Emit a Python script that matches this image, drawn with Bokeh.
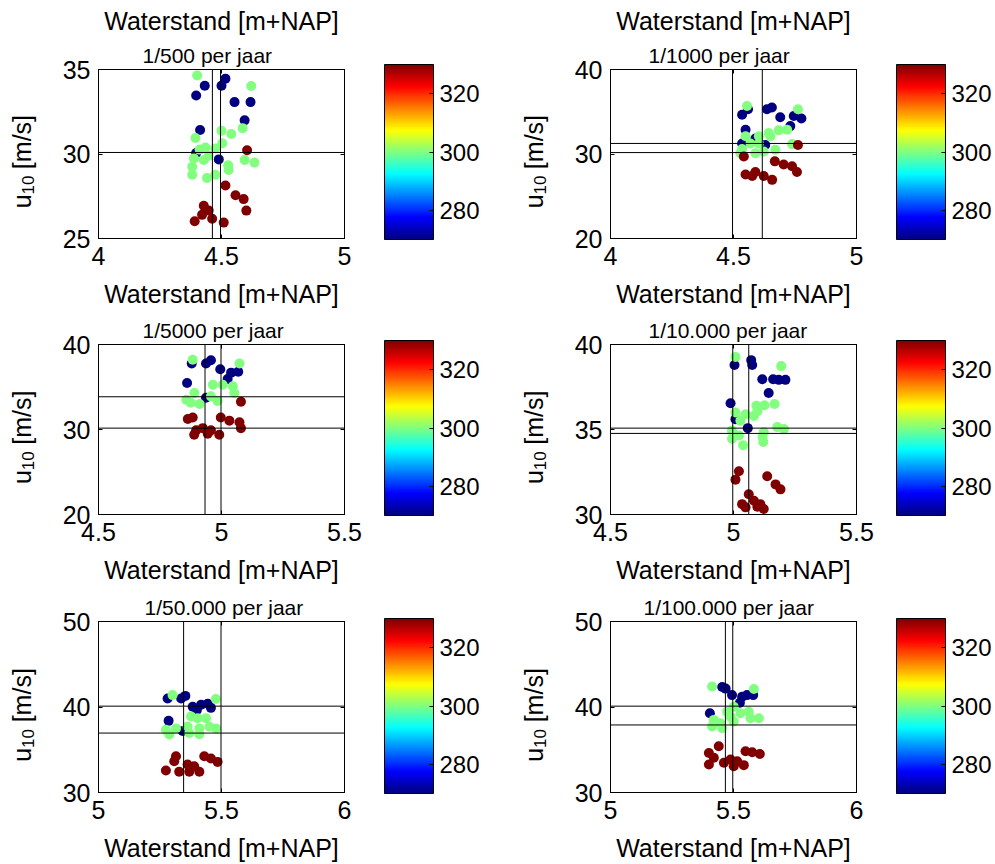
import numpy as np
from bokeh.plotting import figure
from bokeh.models import (ColumnDataSource, LinearColorMapper, ColorBar, FixedTicker,
                          CustomJSTickFormatter, Title, Span, LinearAxis, Range1d)
from bokeh.core.properties import value
from bokeh.layouts import column, row
from bokeh.embed import file_html
from bokeh.resources import INLINE

# ---------------- data ----------------
titles = ["1/500 per jaar", "1/1000 per jaar", "1/5000 per jaar",
          "1/10.000 per jaar", "1/50.000 per jaar", "1/100.000 per jaar"]
x_label = "Waterstand [m+NAP]"
y_label_parts = ["u", "10", "[m/s]"]
cbar_ticks = [280, 300, 320]
cbar_low, cbar_high = 270, 330

x_ticks_500 = [4, 4.5, 5]; y_ticks_500 = [25, 30, 35]
x_ticks_1000 = [4, 4.5, 5]; y_ticks_1000 = [20, 30, 40]
x_ticks_5000 = [4.5, 5, 5.5]; y_ticks_5000 = [20, 30, 40]
x_ticks_10000 = [4.5, 5, 5.5]; y_ticks_10000 = [30, 35, 40]
x_ticks_50000 = [5, 5.5, 6]; y_ticks_50000 = [30, 40, 50]
x_ticks_100000 = [5, 5.5, 6]; y_ticks_100000 = [30, 40, 50]

# 1/500
x_500 = [4.516, 4.500, 4.432, 4.397, 4.553, 4.618, 4.594, 4.413, 4.397, 4.489,
         4.401, 4.621, 4.500, 4.540, 4.586, 4.394, 4.503, 4.435, 4.411, 4.475, 4.388,
         4.381, 4.428, 4.448, 4.527, 4.529, 4.594, 4.634, 4.381, 4.441, 4.475,
         4.604, 4.516, 4.557, 4.590, 4.601, 4.428, 4.448, 4.421, 4.391, 4.462, 4.509]
y_500 = [34.46, 34.04, 34.04, 33.46, 33.07, 33.07, 31.99, 31.42, 30.06, 29.68,
         34.65, 34.02, 31.38, 31.18, 31.53, 30.95, 30.64, 30.38, 30.26, 30.32, 29.74,
         29.25, 29.64, 29.90, 29.33, 29.06, 29.64, 29.49, 28.77, 28.58, 28.77,
         30.22, 28.14, 27.56, 27.33, 26.65, 26.94, 26.65, 26.40, 26.02, 26.17, 25.94]
dir_500 = [270] * 10 + [300] * 21 + [330] * 11
vlines_500 = [4.463, 4.496]
hlines_500 = [30.09]

# 1/1000
x_1000 = [4.535, 4.559, 4.636, 4.656, 4.690, 4.745, 4.776, 4.731, 4.549, 4.589, 4.535, 4.629,
          4.555, 4.762, 4.643, 4.684, 4.718, 4.549, 4.603, 4.650, 4.738, 4.535, 4.589, 4.623,
          4.670, 4.528, 4.569, 4.603,
          4.762, 4.542, 4.668, 4.704, 4.738, 4.758, 4.549, 4.589, 4.576, 4.623, 4.657]
y_1000 = [34.64, 35.30, 35.30, 35.50, 34.34, 34.50, 34.20, 33.30, 32.87, 31.83, 31.25, 31.06,
          35.68, 35.30, 32.49, 32.80, 32.87, 32.10, 32.10, 32.10, 31.17, 30.60, 30.09, 30.30,
          30.50, 30.10, 31.25, 31.25,
          31.06, 29.71, 29.13, 28.75, 28.55, 27.86, 27.58, 27.86, 27.40, 27.40, 26.94]
dir_1000 = [270] * 12 + [300] * 16 + [330] * 11
vlines_1000 = [4.496, 4.617]
hlines_1000 = [31.25, 30.17]

# 1/5000
x_5000 = [4.879, 4.937, 4.957, 4.995, 5.039, 5.068, 5.025, 4.860, 4.937,
          4.883, 5.073, 4.965, 5.005, 5.046, 4.890, 5.052, 4.857, 4.875, 4.911, 4.984, 4.957,
          5.079, 4.863, 4.883, 4.997, 5.032, 5.073, 5.079, 4.897, 4.924, 4.957, 4.991, 4.889, 4.944]
y_5000 = [37.77, 37.77, 38.15, 37.08, 36.69, 36.80, 35.93, 35.47, 33.74,
          38.20, 37.77, 35.27, 35.27, 35.08, 34.30, 34.30, 33.50, 33.16, 33.00, 33.35, 33.90,
          33.27, 31.23, 31.42, 31.42, 31.04, 30.85, 30.16, 29.90, 30.16, 29.90, 29.39, 29.39, 29.50]
dir_5000 = [270] * 9 + [300] * 12 + [330] * 13
vlines_5000 = [4.933, 4.998]
hlines_5000 = [33.85, 30.16]

# 1/10.000
x_10000 = [5.004, 5.072, 5.076, 5.117, 5.161, 5.184, 5.211, 5.143, 4.988, 5.008, 5.058,
           5.008, 5.194, 5.093, 5.126, 5.167, 5.008, 5.049, 5.083, 5.097, 5.028, 5.178, 5.205,
           4.994, 5.022, 4.994, 5.039, 5.118, 5.121, 5.123,
           5.022, 5.008, 5.137, 5.171, 5.191, 5.062, 5.083, 5.035, 5.109, 5.123, 5.049, 5.097]
y_10000 = [38.79, 39.08, 38.79, 37.96, 37.96, 37.92, 37.92, 37.15, 36.54, 35.61, 35.08,
           39.27, 38.73, 36.39, 36.43, 36.50, 36.00, 35.90, 35.80, 36.08, 35.52, 35.14, 35.03,
           34.94, 34.65, 34.46, 34.07, 34.56, 34.27, 34.85,
           32.54, 32.05, 32.25, 31.77, 31.48, 31.19, 30.81, 30.61, 30.61, 30.32, 30.42, 30.46]
dir_10000 = [270] * 11 + [300] * 19 + [330] * 12
vlines_10000 = [4.997, 5.062]
hlines_10000 = [35.08, 34.77]

# 1/50.000
x_50000 = [5.281, 5.336, 5.353, 5.383, 5.417, 5.444, 5.457, 5.400, 5.285, 5.342,
           5.301, 5.477, 5.376, 5.403, 5.437, 5.315, 5.274, 5.362, 5.410, 5.451, 5.478,
           5.288, 5.369, 5.410,
           5.315, 5.308, 5.430, 5.457, 5.484, 5.274, 5.328, 5.362, 5.389, 5.369, 5.410]
y_50000 = [41.00, 41.00, 41.30, 40.03, 40.26, 40.37, 39.90, 39.65, 38.38, 37.20,
           41.39, 40.93, 38.90, 38.69, 38.69, 37.50, 37.33, 37.72, 37.50, 37.70, 37.50,
           36.78, 36.95, 36.82,
           34.24, 33.66, 34.24, 33.97, 33.58, 32.58, 32.43, 33.28, 33.08, 32.43, 32.43]
dir_50000 = [270] * 10 + [300] * 14 + [330] * 11
vlines_50000 = [5.346, 5.498]
hlines_50000 = [40.10, 36.95]

# 1/100.000
x_100000 = [5.454, 5.468, 5.494, 5.535, 5.555, 5.580, 5.526, 5.404,
            5.413, 5.583, 5.501, 5.528, 5.562, 5.474, 5.488, 5.420, 5.447, 5.501, 5.569, 5.603,
            5.413, 5.454,
            5.440, 5.400, 5.420, 5.549, 5.576, 5.607, 5.400, 5.461, 5.488, 5.515, 5.501, 5.542]
y_100000 = [42.35, 42.15, 41.39, 41.20, 41.39, 41.39, 40.50, 39.27,
            42.40, 42.10, 40.03, 39.26, 39.45, 39.45, 38.87, 38.49, 38.10, 38.30, 38.68, 38.68,
            37.72, 37.53,
            35.40, 34.63, 34.06, 34.82, 34.70, 34.50, 33.28, 33.47, 33.86, 33.66, 33.08, 33.20]
dir_100000 = [270] * 8 + [300] * 14 + [330] * 12
vlines_100000 = [5.467, 5.497]
hlines_100000 = [40.10, 37.90]

# ---------------- styling helpers ----------------
FONT = "Liberation Sans"
FRAME_W, FRAME_H = 246, 173
LAB_W = 50  # width of the strip holding the rotated y label


def jet(n):
    t = np.linspace(0, 1, n)
    r = np.clip(1.5 - np.abs(4 * t - 3), 0, 1)
    g = np.clip(1.5 - np.abs(4 * t - 2), 0, 1)
    b = np.clip(1.5 - np.abs(4 * t - 1), 0, 1)
    return ["#%02x%02x%02x" % (int(round(255 * a)), int(round(255 * c)), int(round(255 * d)))
            for a, c, d in zip(r, g, b)]


JET = jet(256)
fmt = CustomJSTickFormatter(code="return String(tick);")
blank = CustomJSTickFormatter(code="return '';")


def ylabel_strip(height, top, bottom):
    """Narrow figure whose frame matches the panel frame; holds the rotated 'u_10 [m/s]'."""
    s = figure(width=LAB_W, height=height, x_range=Range1d(0, LAB_W), y_range=Range1d(0, FRAME_H),
               output_backend="svg", toolbar_location=None, x_axis_location=None,
               y_axis_location=None, title=None, outline_line_color=None,
               min_border_left=0, min_border_right=0, min_border_top=top,
               min_border_bottom=bottom)
    s.grid.visible = False
    s.border_fill_color = "white"
    s.background_fill_color = "white"
    base = 21
    y0 = 31
    kw = dict(angle=np.pi / 2, text_font=value(FONT), text_color="black",
              text_align="left", text_baseline="alphabetic")
    s.text(x=[base], y=[y0], text=[y_label_parts[0]], text_font_size=value("25px"), **kw)
    s.text(x=[base + 6], y=[y0 + 14], text=[y_label_parts[1]], text_font_size=value("17px"), **kw)
    s.text(x=[base], y=[y0 + 40], text=[y_label_parts[2]], text_font_size=value("25px"), **kw)
    return s


def panel(title, xs, ys, ds, vl, hl, xt, yt, width, height, top, bottom, top_label=False,
          title_offset=44):
    mapper = LinearColorMapper(palette=JET, low=cbar_low, high=cbar_high)
    pw = width - LAB_W
    p = figure(width=pw, height=height,
               x_range=Range1d(xt[0], xt[-1]), y_range=Range1d(yt[0], yt[-1]),
               output_backend="svg", toolbar_location=None, title=None,
               min_border_left=98 - LAB_W, min_border_right=pw - (98 - LAB_W) - FRAME_W,
               min_border_top=top, min_border_bottom=bottom)
    p.grid.visible = False
    p.outline_line_color = "black"
    p.background_fill_color = "white"
    p.border_fill_color = "white"

    for ax in (p.xaxis[0], p.yaxis[0]):
        ax.formatter = fmt
        ax.major_tick_in = 4
        ax.major_tick_out = 0
        ax.minor_tick_line_color = None
        ax.axis_line_color = "black"
        ax.major_tick_line_color = "black"
        ax.major_label_text_font = FONT
        ax.major_label_text_font_size = "25px"
        ax.major_label_text_color = "black"
        ax.major_label_standoff = 8
    p.xaxis[0].ticker = FixedTicker(ticks=xt)
    p.yaxis[0].ticker = FixedTicker(ticks=yt)
    p.xaxis[0].axis_label = x_label
    p.xaxis[0].axis_label_text_font = FONT
    p.xaxis[0].axis_label_text_font_size = "25px"
    p.xaxis[0].axis_label_text_font_style = "normal"
    p.xaxis[0].axis_label_text_color = "black"
    p.xaxis[0].axis_label_standoff = 12

    # tick marks on top and right sides
    for side, tk in (("above", xt), ("right", yt)):
        a = LinearAxis(ticker=FixedTicker(ticks=tk), formatter=blank, major_tick_in=4,
                       major_tick_out=0, minor_tick_line_color=None, axis_line_color="black",
                       major_label_standoff=0, major_label_text_font_size="1px")
        p.add_layout(a, side)

    src = ColumnDataSource(dict(x=xs, y=ys, d=ds))
    p.scatter("x", "y", source=src, size=10, line_color=None,
              fill_color={"field": "d", "transform": mapper})

    for v in vl:
        p.add_layout(Span(location=v, dimension="height", line_color="black", line_width=1))
    for h in hl:
        p.add_layout(Span(location=h, dimension="width", line_color="black", line_width=1))

    cb = ColorBar(color_mapper=mapper, ticker=FixedTicker(ticks=cbar_ticks), width=49,
                  height=175, margin=0, padding=0, location=(40, -1),
                  major_label_text_font=FONT, major_label_text_font_size="24px",
                  major_label_text_color="black", major_tick_in=4, major_tick_out=0,
                  major_tick_line_color="black", bar_line_color="black", label_standoff=6,
                  minor_tick_line_color=None, background_fill_color="white")
    p.add_layout(cb, "right")

    p.add_layout(Title(text=title, text_font=FONT, text_font_size="21px",
                       text_font_style="normal", text_color="black", align="left",
                       offset=title_offset, standoff=5), "above")
    if top_label:
        p.add_layout(Title(text=x_label, text_font=FONT, text_font_size="25px",
                           text_font_style="normal", text_color="black", align="center",
                           offset=0, standoff=9), "above")
    return row(ylabel_strip(height, top, bottom), p)


LW, RW = 512, 483
p1 = panel(titles[0], x_500, y_500, dir_500, vlines_500, hlines_500, x_ticks_500, y_ticks_500,
           LW, 310, 69, 68, top_label=True, title_offset=44)
p2 = panel(titles[1], x_1000, y_1000, dir_1000, vlines_1000, hlines_1000, x_ticks_1000, y_ticks_1000,
           RW, 310, 69, 68, top_label=True, title_offset=38)
p3 = panel(titles[2], x_5000, y_5000, dir_5000, vlines_5000, hlines_5000, x_ticks_5000, y_ticks_5000,
           LW, 276, 34, 69, title_offset=44)
p4 = panel(titles[3], x_10000, y_10000, dir_10000, vlines_10000, hlines_10000, x_ticks_10000,
           y_ticks_10000, RW, 276, 34, 69, title_offset=38)
p5 = panel(titles[4], x_50000, y_50000, dir_50000, vlines_50000, hlines_50000, x_ticks_50000,
           y_ticks_50000, LW, 278, 35, 70, title_offset=46)
p6 = panel(titles[5], x_100000, y_100000, dir_100000, vlines_100000, hlines_100000, x_ticks_100000,
           y_ticks_100000, RW, 278, 35, 70, title_offset=33)

layout = column(row(p1, p2), row(p3, p4), row(p5, p6))
open("out.html", "w").write(file_html(layout, INLINE))
